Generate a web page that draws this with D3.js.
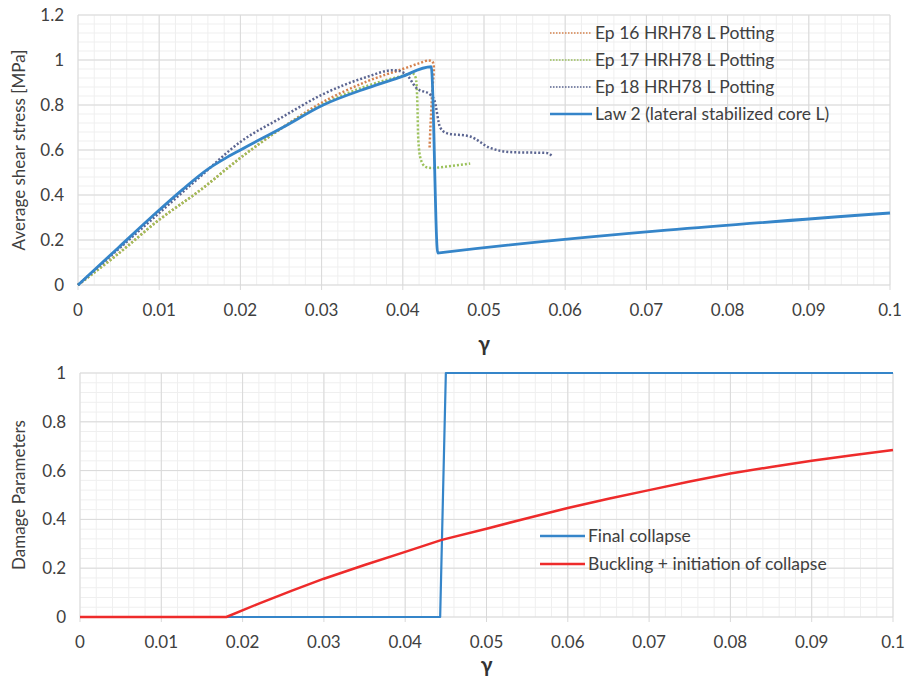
<!DOCTYPE html>
<html>
  <head>
    <meta charset="utf-8">
    <title>Shear stress and damage parameters</title>
    <style type="text/css">
      body { margin: 0; background: #fff; }
      text { font-family: Lato, "Open Sans", sans-serif; fill: #404040; }
    </style>
  </head>
  <body>
    <div id="chart"></div>
    <script src="https://d3js.org/d3.v7.min.js"></script>
    <script>

    // ---- data ----
    var xTicks = [0, 0.01, 0.02, 0.03, 0.04, 0.05, 0.06, 0.07, 0.08, 0.09, 0.1];
    var yTicksTop = [0, 0.2, 0.4, 0.6, 0.8, 1, 1.2];
    var yTicksBottom = [0, 0.2, 0.4, 0.6, 0.8, 1];

    var topNames = ["Ep 16 HRH78 L Potting", "Ep 17 HRH78 L Potting", "Ep 18 HRH78 L Potting", "Law 2 (lateral stabilized core L)"];
    var bottomNames = ["Final collapse", "Buckling + initiation of collapse"];

    var ep16 = [[0,0],[0.005,0.14],[0.01,0.29],[0.015,0.42],[0.02,0.565],[0.0252,0.70],[0.03,0.81],
                [0.0356,0.905],[0.04,0.96],[0.042,0.985],[0.0432,0.998],[0.0437,0.99],[0.0436,0.85],[0.0434,0.7],[0.0433,0.61]];
    var ep17 = [[0,0],[0.005,0.14],[0.01,0.29],[0.015,0.42],[0.02,0.565],[0.0252,0.70],[0.03,0.80],
                [0.0356,0.885],[0.04,0.93],[0.0412,0.94],[0.0416,0.92],[0.0418,0.8],[0.0419,0.65],[0.0422,0.56],
                [0.0428,0.525],[0.0435,0.52],[0.045,0.525],[0.0483,0.54]];
    var ep18 = [[0,0],[0.005,0.16],[0.01,0.32],[0.015,0.48],[0.02,0.636],[0.0252,0.747],[0.03,0.845],
                [0.0356,0.925],[0.0388,0.955],[0.0403,0.94],[0.0417,0.875],[0.0434,0.845],[0.0439,0.82],
                [0.0446,0.70],[0.0454,0.675],[0.0483,0.66],[0.0507,0.61],[0.0536,0.59],[0.0577,0.587],[0.0584,0.573]];
    var law2 = [[0,0],[0.005,0.167],[0.01,0.333],[0.0129,0.425],[0.016,0.515],[0.018,0.56],[0.02,0.6],[0.0252,0.70],
                [0.0302,0.80],[0.0356,0.875],[0.0397,0.924],[0.0435,0.97],[0.0443,0.142],[0.045,0.145],[0.1,0.32]];

    var finalCollapse = [[0,0],[0.0443,0],[0.045,1],[0.1,1]];
    var buckling = [[0,0],[0.018,0],[0.022,0.055],[0.026,0.107],[0.03,0.157],[0.035,0.213],[0.04,0.267],
                    [0.0445,0.316],[0.05,0.362],[0.055,0.405],[0.06,0.447],[0.065,0.485],[0.07,0.52],
                    [0.075,0.555],[0.08,0.588],[0.085,0.615],[0.09,0.64],[0.095,0.663],[0.1,0.684]];

    var topSeries = [ep16, ep17, ep18, law2];
    var topColors = ["#d5824e", "#9cc25c", "#5b6591", "#3585c9"];
    var bottomSeries = [finalCollapse, buckling];
    var bottomColors = ["#3585c9", "#ee2b2b"];

    var width = 906, height = 683;

    var svg = d3.select("#chart").append("svg")
      .attr("width", width)
      .attr("height", height);

    function panel(opt) {
      var x = d3.scaleLinear().domain([0, 0.1]).range([opt.left, opt.right]);
      var y = d3.scaleLinear().domain([0, opt.yMax]).range([opt.bottom, opt.top]);
      var g = svg.append("g");

      // minor grid
      g.selectAll(".mx").data(d3.range(0, 51).map(function(i) { return i * 0.002; }))
        .enter().append("line")
        .attr("x1", function(d) { return x(d); }).attr("x2", function(d) { return x(d); })
        .attr("y1", opt.top).attr("y2", opt.bottom)
        .style("stroke", "#efefef").style("stroke-width", 1);
      g.selectAll(".my").data(d3.range(0, Math.round(opt.yMax / 0.04) + 1).map(function(i) { return i * 0.04; }))
        .enter().append("line")
        .attr("x1", opt.left).attr("x2", opt.right)
        .attr("y1", function(d) { return y(d); }).attr("y2", function(d) { return y(d); })
        .style("stroke", "#efefef").style("stroke-width", 1);

      // major grid
      g.selectAll(".gx").data(xTicks).enter().append("line")
        .attr("x1", function(d) { return x(d); }).attr("x2", function(d) { return x(d); })
        .attr("y1", opt.top).attr("y2", opt.bottom + 5)
        .style("stroke", "#d9d9d9").style("stroke-width", 1);
      g.selectAll(".gy").data(opt.yTicks).enter().append("line")
        .attr("x1", opt.left).attr("x2", opt.right)
        .attr("y1", function(d) { return y(d); }).attr("y2", function(d) { return y(d); })
        .style("stroke", "#d9d9d9").style("stroke-width", 1);

      // tick labels
      g.selectAll(".tx").data(xTicks).enter().append("text")
        .attr("x", function(d) { return x(d); })
        .attr("y", opt.bottom + 31)
        .attr("text-anchor", "middle")
        .style("font-size", "17px")
        .text(function(d) { return d; });
      g.selectAll(".ty").data(opt.yTicks).enter().append("text")
        .attr("x", opt.left - 14)
        .attr("y", function(d) { return y(d) + 6; })
        .attr("text-anchor", "end")
        .style("font-size", "17px")
        .text(function(d) { return d; });

      // axis titles
      g.append("text")
        .attr("x", (opt.left + opt.right) / 2)
        .attr("y", opt.bottom + opt.gammaOffset)
        .attr("text-anchor", "middle")
        .style("font-size", "21px")
        .style("font-weight", "bold")
        .style("fill", "#333")
        .text("\u03b3");
      g.append("text")
        .attr("transform", "translate(" + 25 + "," + (opt.top + opt.bottom) / 2 + ") rotate(-90)")
        .attr("text-anchor", "middle")
        .style("font-size", opt.yTitleSize)
        .text(opt.yTitle);

      opt.series.forEach(function(s, i) {
        var line = d3.line()
          .curve(opt.curves[i])
          .x(function(d) { return x(d[0]); })
          .y(function(d) { return y(d[1]); });
        g.append("path")
          .attr("d", line(s))
          .style("fill", "none")
          .style("stroke", opt.colors[i])
          .style("stroke-width", opt.widths[i])
          .style("stroke-dasharray", opt.dashes[i])
          .style("stroke-linejoin", "round");
      });

      // legend
      var lg = g.append("g");
      opt.names.forEach(function(n, i) {
        var ly = opt.legendY + i * opt.legendStep;
        lg.append("line")
          .attr("x1", opt.legendX).attr("x2", opt.legendX + opt.legendLen)
          .attr("y1", ly).attr("y2", ly)
          .style("stroke", opt.colors[i])
          .style("stroke-width", opt.dashes[i] ? 1.5 : 2.5)
          .style("stroke-dasharray", opt.dashes[i] ? "1.5,1.5" : null);
        lg.append("text")
          .attr("x", opt.legendX + opt.legendLen + 3)
          .attr("y", ly + 6)
          .style("font-size", "17.5px")
          .text(n);
      });
    }

    var smooth = d3.curveCatmullRom.alpha(0.5);
    var mono = d3.curveMonotoneX;

    panel({
      left: 78, right: 890, top: 15, bottom: 285, yMax: 1.2,
      yTicks: yTicksTop, yTitle: "Average shear stress [MPa]", yTitleSize: "17px",
      gammaOffset: 66,
      series: topSeries, colors: topColors, curves: [smooth, mono, mono, mono],
      widths: [2.5, 2.5, 2.5, 2.8], dashes: ["2,2", "2,2", "2,2", null],
      names: topNames, legendX: 550, legendLen: 42, legendY: 33, legendStep: 27
    });

    panel({
      left: 80, right: 893, top: 373, bottom: 617, yMax: 1,
      yTicks: yTicksBottom, yTitle: "Damage Parameters", yTitleSize: "17px",
      gammaOffset: 55,
      series: bottomSeries, colors: bottomColors, curves: [d3.curveLinear, d3.curveLinear],
      widths: [2.2, 2.5], dashes: [null, null],
      names: bottomNames, legendX: 540, legendLen: 45, legendY: 536, legendStep: 28
    });

    </script>
  </body>
</html>
